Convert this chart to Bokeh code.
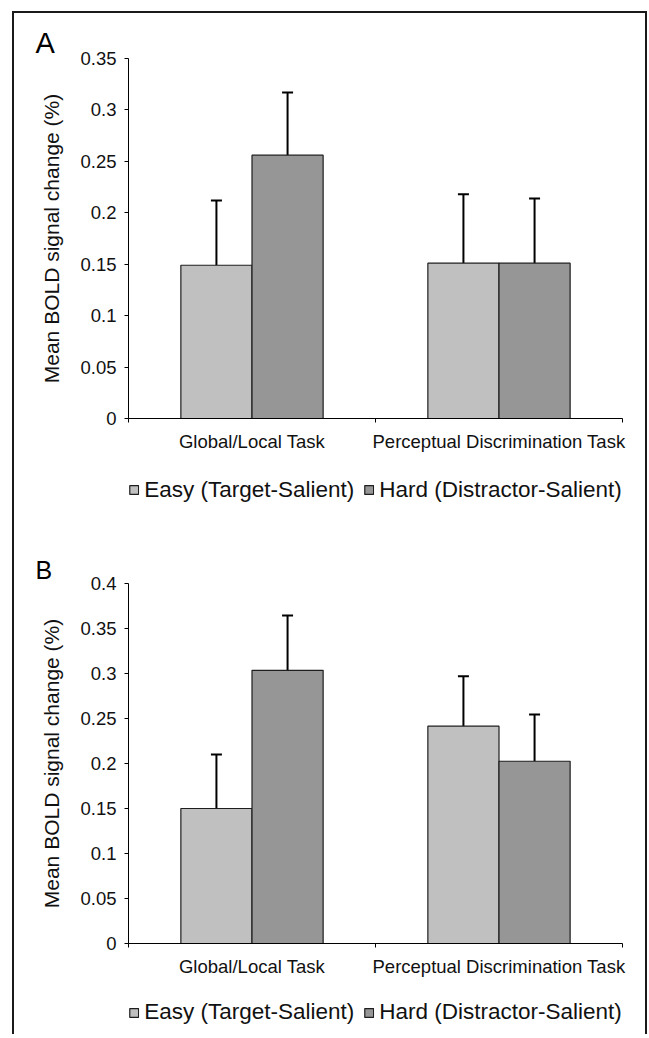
from bokeh.plotting import figure
from bokeh.models import (Range1d, FixedTicker, Whisker, TeeHead, ColumnDataSource,
                          Legend, LegendItem, Title)
from bokeh.layouts import column
from bokeh.embed import file_html
from bokeh.resources import INLINE

# ---------------- data ----------------
categories = ["Global/Local Task", "Perceptual Discrimination Task"]
series = ["Easy (Target-Salient)", "Hard (Distractor-Salient)"]

a_easy = [0.149, 0.151]
a_hard = [0.256, 0.151]
a_easy_err = [0.063, 0.067]
a_hard_err = [0.061, 0.063]
a_yticks = [0, 0.05, 0.1, 0.15, 0.2, 0.25, 0.3, 0.35]
a_yticklabels = ["0", "0.05", "0.1", "0.15", "0.2", "0.25", "0.3", "0.35"]

b_easy = [0.150, 0.2415]
b_hard = [0.3035, 0.2025]
b_easy_err = [0.060, 0.0555]
b_hard_err = [0.061, 0.052]
b_yticks = [0, 0.05, 0.1, 0.15, 0.2, 0.25, 0.3, 0.35, 0.4]
b_yticklabels = ["0", "0.05", "0.1", "0.15", "0.2", "0.25", "0.3", "0.35", "0.4"]

y_label = "Mean BOLD signal change (%)"

# ---------------- style ----------------
FONT = "Liberation Sans"
TXT = "#111111"
EASY_COLOR = "#c0c0c0"
HARD_COLOR = "#969696"
BAR_LINE = "#1e1e1e"
BAR_W = 0.288
W = 631


def sources(easy, hard, easy_err, hard_err):
    centers = [i + 0.5 for i in range(len(categories))]
    src_e = ColumnDataSource(dict(x=[c - BAR_W / 2 for c in centers], top=easy,
                                  hi=[v + e for v, e in zip(easy, easy_err)]))
    src_h = ColumnDataSource(dict(x=[c + BAR_W / 2 for c in centers], top=hard,
                                  hi=[v + e for v, e in zip(hard, hard_err)]))
    return centers, src_e, src_h


def bars(p, src_e, src_h, visible=True):
    r_e = p.vbar(x="x", top="top", bottom=0, width=BAR_W, source=src_e,
                 fill_color=EASY_COLOR, line_color=BAR_LINE, line_width=1.2,
                 visible=visible)
    r_h = p.vbar(x="x", top="top", bottom=0, width=BAR_W, source=src_h,
                 fill_color=HARD_COLOR, line_color=BAR_LINE, line_width=1.2,
                 visible=visible)
    return r_e, r_h


def make_panel(letter, letter_size, easy, hard, easy_err, hard_err, yticks, ylabels,
               height, b_left, b_right, b_top, b_bottom):
    p = figure(width=W, height=height, output_backend="svg", toolbar_location=None,
               x_range=Range1d(0, len(categories)), y_range=Range1d(yticks[0], yticks[-1]),
               min_border_left=b_left, min_border_right=b_right,
               min_border_top=b_top, min_border_bottom=b_bottom)
    p.outline_line_color = None
    p.xgrid.visible = False
    p.ygrid.visible = False

    centers, src_e, src_h = sources(easy, hard, easy_err, hard_err)
    bars(p, src_e, src_h)

    for src in (src_e, src_h):
        p.add_layout(Whisker(base="x", lower="top", upper="hi", source=src,
                             dimension="height", line_color="black", line_width=2,
                             upper_head=TeeHead(size=11, line_color="black", line_width=2),
                             lower_head=None))

    ya = p.yaxis[0]
    ya.ticker = FixedTicker(ticks=yticks, minor_ticks=[])
    ya.major_label_overrides = {t: l for t, l in zip(yticks, ylabels)}
    ya.major_tick_out = 4
    ya.major_tick_in = 0
    ya.major_label_standoff = 8
    ya.major_label_text_font = FONT
    ya.major_label_text_font_size = "18.5px"
    ya.major_label_text_color = TXT
    ya.axis_label = y_label
    ya.axis_label_text_font = FONT
    ya.axis_label_text_font_size = "21px"
    ya.axis_label_text_font_style = "normal"
    ya.axis_label_text_color = TXT
    ya.axis_label_standoff = 14
    ya.axis_line_color = "black"
    ya.major_tick_line_color = "black"

    xa = p.xaxis[0]
    xa.ticker = FixedTicker(ticks=centers, minor_ticks=list(range(len(categories) + 1)))
    xa.major_label_overrides = {c: cat for c, cat in zip(centers, categories)}
    xa.major_tick_out = 0
    xa.major_tick_in = 0
    xa.minor_tick_out = 4
    xa.minor_tick_in = 0
    xa.minor_tick_line_color = "black"
    xa.major_label_standoff = 8
    xa.major_label_text_font = FONT
    xa.major_label_text_font_size = "18.5px"
    xa.major_label_text_color = TXT
    xa.axis_line_color = "black"

    p.add_layout(Title(text=letter, align="left", offset=-93, standoff=0,
                       text_font=FONT, text_font_size=letter_size,
                       text_font_style="normal", text_color="black"), "above")
    return p, src_e, src_h


def make_legend(src_e, src_h, height, b_left):
    # legend strip: hidden copies of the bar renderers feed the legend swatches
    q = figure(width=W, height=height, output_backend="svg", toolbar_location=None,
               x_axis_type=None, y_axis_type=None,
               x_range=Range1d(0, len(categories)), y_range=Range1d(0, 1),
               min_border_left=b_left, min_border_right=0,
               min_border_top=0, min_border_bottom=0)
    q.outline_line_color = None
    r_e, r_h = bars(q, src_e, src_h, visible=False)
    legend = Legend(items=[LegendItem(label=series[0], renderers=[r_e]),
                           LegendItem(label=series[1], renderers=[r_h])],
                    orientation="horizontal", location="center",
                    label_text_font=FONT, label_text_font_size="22.5px",
                    label_text_color=TXT, glyph_width=11, glyph_height=11,
                    label_standoff=5, spacing=9, padding=0, margin=0,
                    inactive_fill_alpha=0,
                    border_line_color=None, background_fill_color=None)
    q.add_layout(legend)
    return q


pA, sA_e, sA_h = make_panel("A", "29px", a_easy, a_hard, a_easy_err, a_hard_err,
                            a_yticks, a_yticklabels, height=451,
                            b_left=111, b_right=23, b_top=45, b_bottom=46)
lA = make_legend(sA_e, sA_h, height=51, b_left=96)

pB, sB_e, sB_h = make_panel("B", "25px", b_easy, b_hard, b_easy_err, b_hard_err,
                            b_yticks, b_yticklabels, height=475,
                            b_left=114, b_right=20, b_top=68, b_bottom=47)
lB = make_legend(sB_e, sB_h, height=44, b_left=107)

layout = column(pA, lA, pB, lB, margin=(11, 0, 0, 12),
                styles={"border-left": "2px solid #1a1a1a",
                        "border-right": "2px solid #1a1a1a",
                        "border-top": "2px solid #1a1a1a"})

open("out.html", "w").write(file_html(layout, INLINE))
